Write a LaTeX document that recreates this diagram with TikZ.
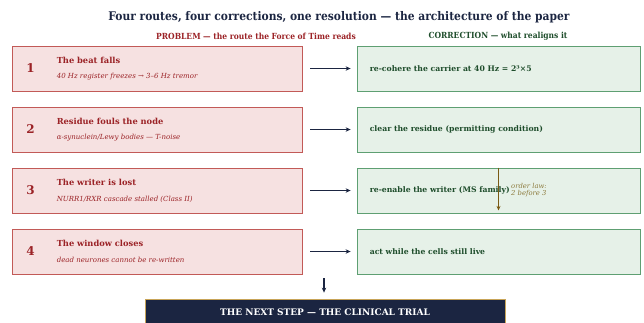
\documentclass[tikz,border=0pt]{standalone}
\usepackage{fontspec}
\setmainfont{DejaVu Serif}
\newfontfamily\condfont{DejaVu Serif Condensed}
\usetikzlibrary{positioning,arrows.meta}

\definecolor{navy}{HTML}{1B2541}
\definecolor{probfill}{HTML}{F6E1E1}
\definecolor{probline}{HTML}{C25A57}
\definecolor{probtext}{HTML}{9B2226}
\definecolor{corrfill}{HTML}{E6F1E8}
\definecolor{corrline}{HTML}{5E9F72}
\definecolor{corrtext}{HTML}{1E4D2B}
\definecolor{gold}{HTML}{C8A458}
\definecolor{orderline}{HTML}{7A5A14}
\definecolor{ordertext}{HTML}{8C7A3C}

\begin{document}
\begin{tikzpicture}[x=1pt,y=1pt,node distance=15.2pt,
				prob/.style = {rectangle,draw=probline,fill=probfill,line width=0.8pt,minimum width=290pt,minimum height=45pt,inner sep=0pt},
				corr/.style = {rectangle,draw=corrline,fill=corrfill,line width=0.8pt,minimum width=283pt,minimum height=45pt,inner sep=0pt},
				num/.style = {text=probtext,font=\bfseries\fontsize{12}{14}\selectfont},
				ptitle/.style = {anchor=west,inner sep=0pt,text=probtext,font=\bfseries\fontsize{8.3}{10}\selectfont},
				psub/.style = {anchor=west,inner sep=0pt,text=probtext,font=\itshape\fontsize{7}{8}\selectfont},
				ctext/.style = {anchor=west,inner sep=0pt,text=corrtext,font=\bfseries\fontsize{7.7}{9}\selectfont},
				arr/.style = {-{Stealth[length=5pt,width=4.5pt]},navy,line width=1.1pt}]
				
				\useasboundingbox (0,0) rectangle (644,-322);
				\clip (0,0) rectangle (644,-322);
				
				\node[text=navy,font=\condfont\bfseries\fontsize{11.9}{14}\selectfont] (title) at (339,-17) {Four routes, four corrections, one resolution — the architecture of the paper};
				\node[text=probtext,font=\condfont\bfseries\fontsize{8.4}{10}\selectfont] (hp) at (256,-36) {PROBLEM — the route the Force of Time reads};
				\node[text=corrtext,font=\condfont\bfseries\fontsize{8.4}{10}\selectfont] (hc) at (498,-36) {CORRECTION — what realigns it};
				
				% problem column
				\node[prob] (p1) at (157,-68.5) {};
				\node[prob] [below = of p1] (p2) {};
				\node[prob] [below = of p2] (p3) {};
				\node[prob] [below = of p3] (p4) {};
				
				\node[num] at ([xshift=19pt]p1.west) (n1) {1};
				\node[num] at ([xshift=19pt]p2.west) (n2) {2};
				\node[num] at ([xshift=19pt]p3.west) (n3) {3};
				\node[num] at ([xshift=19pt]p4.west) (n4) {4};
				
				\node[ptitle] at ([xshift=45pt,yshift=8.5pt]p1.west) (t1) {The beat falls};
				\node[psub] at ([xshift=45pt,yshift=-8.5pt]p1.west) (s1) {40 Hz register freezes → 3–6 Hz tremor};
				\node[ptitle] at ([xshift=45pt,yshift=8.5pt]p2.west) (t2) {Residue fouls the node};
				\node[psub] at ([xshift=45pt,yshift=-8.5pt]p2.west) (s2) {α-synuclein/Lewy bodies — T-noise};
				\node[ptitle] at ([xshift=45pt,yshift=8.5pt]p3.west) (t3) {The writer is lost};
				\node[psub] at ([xshift=45pt,yshift=-8.5pt]p3.west) (s3) {NURR1/RXR cascade stalled (Class II)};
				\node[ptitle] at ([xshift=45pt,yshift=8.5pt]p4.west) (t4) {The window closes};
				\node[psub] at ([xshift=45pt,yshift=-8.5pt]p4.west) (s4) {dead neurones cannot be re-written};
				
				% correction column
				\node[corr] [right = 54.2pt of p1] (c1) {};
				\node[corr] [right = 54.2pt of p2] (c2) {};
				\node[corr] [right = 54.2pt of p3] (c3) {};
				\node[corr] [right = 54.2pt of p4] (c4) {};
				
				\node[ctext] at ([xshift=13pt]c1.west) (r1) {re-cohere the carrier at 40 Hz = 2³×5};
				\node[ctext] at ([xshift=13pt]c2.west) (r2) {clear the residue (permitting condition)};
				\node[ctext] at ([xshift=13pt]c3.west) (r3) {re-enable the writer (MS family)};
				\node[ctext] at ([xshift=13pt]c4.west) (r4) {act while the cells still live};
				
				\path[arr,shorten <=8pt,shorten >=6pt]
				(p1) edge (c1)
				(p2) edge (c2)
				(p3) edge (c3)
				(p4) edge (c4);
				
				% order law
				\draw[-{Stealth[length=4.5pt,width=4pt]},orderline,line width=1pt,shorten >=3pt] (c3.north) -- (c3.south);
				\node[anchor=west,align=left,inner sep=0pt,text=ordertext,font=\itshape\fontsize{6.8}{7.6}\selectfont] (ol) at (511,-190) {order law:\\2 before 3};
				
				% resolution
				\node[rectangle,draw=gold,fill=navy,line width=0.8pt,minimum width=360pt,minimum height=28pt,inner sep=0pt] (ns) at (325,-313) {};
				\node[text=white,font=\bfseries\fontsize{9}{11}\selectfont] (nst) at (325,-312) {THE NEXT STEP — THE CLINICAL TRIAL};
				\coordinate (k) at (324,-278);
				\draw[arr,shorten >=6pt] (k) -- (k |- ns.north);
\end{tikzpicture}
\end{document}
